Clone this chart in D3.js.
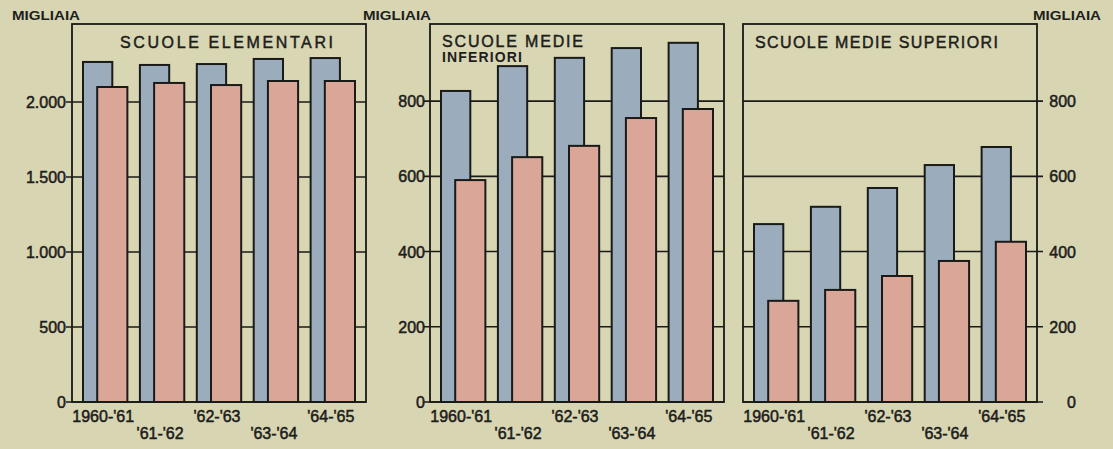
<!DOCTYPE html>
<html>
<head>
<meta charset="utf-8">
<script src="https://cdn.jsdelivr.net/npm/d3@7"></script>
<style>
  html, body { margin: 0; padding: 0; background: #d7d5b2; }
  svg { display: block; }
  text { font-family: "Liberation Sans", Arial, sans-serif; fill: #1e1e1c; }
</style>
</head>
<body>
<svg id="chart" width="1113" height="449"></svg>
<script>
// ---- Data (migliaia) ----
const categories = ["1960-'61", "'61-'62", "'62-'63", "'63-'64", "'64-'65"];
const elemBlue = [2267, 2247, 2253, 2287, 2293];
const elemPink = [2100, 2127, 2113, 2140, 2140];
const infBlue  = [827, 893, 915, 941, 955];
const infPink  = [590, 651, 681, 755, 779];
const supBlue  = [473, 519, 569, 630, 678];
const supPink  = [269, 298, 335, 375, 426];
const elemTicks = [0, 500, 1000, 1500, 2000];
const elemTickLabels = ["0", "500", "1.000", "1.500", "2.000"];
const medieTicks = [0, 200, 400, 600, 800];
const medieTickLabels = ["0", "200", "400", "600", "800"];
const unitLabel = "MIGLIAIA";

const svg = d3.select("#chart");
const BLUE = "#9badbc", PINK = "#d9a697", INK = "#1a1a18", PANEL = "#d8d6b3";
const plotTop = 24, plotBottom = 402;

const panels = [
  { left: 72, right: 366, max: 2520, blue: elemBlue, pink: elemPink, ticks: elemTicks, labels: elemTickLabels,
    side: "left", labelX: 66, unitX: 12,
    titles: [{ t: "SCUOLE ELEMENTARI", x: 120, y: 48, w: 213, size: 16 }] },
  { left: 430, right: 724, max: 1005, blue: infBlue, pink: infPink, ticks: medieTicks, labels: medieTickLabels,
    side: "left", labelX: 425, unitX: 363,
    titles: [{ t: "SCUOLE MEDIE", x: 442, y: 47, w: 141, size: 16 },
             { t: "INFERIORI", x: 442, y: 62, w: 80, size: 14, bold: true }] },
  { left: 743, right: 1037, max: 1005, blue: supBlue, pink: supPink, ticks: medieTicks, labels: medieTickLabels,
    side: "right", labelX: 1076, unitX: 1033,
    titles: [{ t: "SCUOLE MEDIE SUPERIORI", x: 755, y: 48, w: 243, size: 16 }] }
];

panels.forEach(p => {
  const g = svg.append("g");
  const y = d3.scaleLinear().domain([0, p.max]).range([plotBottom, plotTop]);
  const x = d3.scaleBand().domain(categories).range([p.left + 11, p.right - 11])
    .paddingInner(0.22).paddingOuter(0);
  const bw = x.bandwidth();

  g.append("rect").attr("x", p.left).attr("y", plotTop).attr("width", p.right - p.left)
    .attr("height", plotBottom - plotTop).attr("fill", PANEL);

  const gx1 = p.side === "left" ? p.left - 6 : p.left;
  const gx2 = p.side === "left" ? p.right : p.right + 6;
  g.selectAll("line.grid").data(p.ticks).join("line")
    .attr("x1", gx1).attr("x2", gx2)
    .attr("y1", d => y(d)).attr("y2", d => y(d))
    .attr("stroke", INK).attr("stroke-width", 1.6);

  g.selectAll("text.tick").data(p.ticks).join("text")
    .attr("x", p.labelX).attr("y", d => y(d) + 6)
    .attr("text-anchor", "end")
    .attr("font-size", 16).attr("font-weight", 400)
    .attr("stroke", INK).attr("stroke-width", 0.5)
    .text((d, i) => p.labels[i]);

  g.append("text").attr("x", p.unitX).attr("y", 20)
    .attr("font-size", 13).attr("font-weight", 700)
    .attr("textLength", 68).attr("lengthAdjust", "spacingAndGlyphs")
    .text(unitLabel);

  p.titles.forEach(t => {
    g.append("text").attr("x", t.x).attr("y", t.y)
      .attr("font-size", t.size).attr("font-weight", t.bold ? 700 : 400)
      .attr("stroke", INK).attr("stroke-width", t.bold ? 0 : 0.45)
      .attr("textLength", t.w).attr("lengthAdjust", "spacing")
      .text(t.t);
  });

  g.selectAll("rect.blue").data(categories).join("rect")
    .attr("x", d => x(d)).attr("width", bw * 0.66)
    .attr("y", (d, i) => y(p.blue[i])).attr("height", (d, i) => plotBottom - y(p.blue[i]))
    .attr("fill", BLUE).attr("stroke", INK).attr("stroke-width", 2);

  g.selectAll("rect.pink").data(categories).join("rect")
    .attr("x", d => x(d) + bw * 0.32).attr("width", bw * 0.68)
    .attr("y", (d, i) => y(p.pink[i])).attr("height", (d, i) => plotBottom - y(p.pink[i]))
    .attr("fill", PINK).attr("stroke", INK).attr("stroke-width", 2);

  g.append("rect").attr("x", p.left).attr("y", plotTop).attr("width", p.right - p.left)
    .attr("height", plotBottom - plotTop).attr("fill", "none").attr("stroke", INK).attr("stroke-width", 1.8);

  g.selectAll("text.cat").data(categories).join("text")
    .attr("x", d => x(d) + bw / 2 - 2)
    .attr("y", (d, i) => i % 2 === 0 ? 422 : 439)
    .attr("text-anchor", "middle")
    .attr("font-size", 16).attr("font-weight", 400)
    .attr("stroke", INK).attr("stroke-width", 0.5)
    .text(d => d);
});
</script>
</body>
</html>
